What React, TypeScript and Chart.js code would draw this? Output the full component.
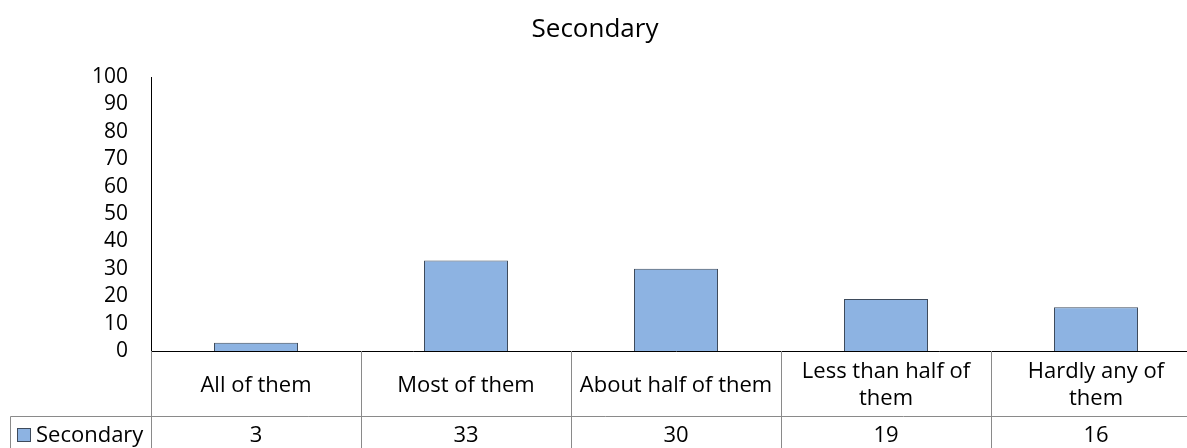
import React, { useEffect, useRef } from "react";
import { Chart, registerables } from "chart.js";

Chart.register(...registerables);

// Category labels, split into the lines shown in the table header row
const categories: string[][] = [
  ["All of them"],
  ["Most of them"],
  ["About half of them"],
  ["Less than half of", "them"],
  ["Hardly any of", "them"],
];
const seriesName = "Secondary";
const seriesValues: number[] = [3, 33, 30, 19, 16];
const yTicks: number[] = [0, 10, 20, 30, 40, 50, 60, 70, 80, 90, 100];
const chartTitle = "Secondary";

const FONT = "'Open Sans', sans-serif";
const BAR_FILL = "#8db3e2";
const BAR_EDGE = "#3e4b5c";
const GRID_GRAY = "#8a8a8a";

// Draws the title and the data table (category row + value row) under the plot
const tablePlugin = {
  id: "dataTable",
  afterDraw(chart: any) {
    const { ctx, chartArea, width } = chart;
    const x = chart.scales.x;
    const n = categories.length;
    const x0 = x.getPixelForValue(0);
    const colW = n > 1 ? x.getPixelForValue(1) - x0 : chartArea.right - chartArea.left;
    const left = x0 - colW / 2;
    const top = chartArea.bottom;
    const rowSplit = top + 65;
    const bottom = chart.height;

    ctx.save();
    // title
    ctx.fillStyle = "#000";
    ctx.font = `26px ${FONT}`;
    ctx.textAlign = "center";
    ctx.textBaseline = "alphabetic";
    ctx.fillText(chartTitle, 595, 37);

    // grid lines of the table
    ctx.strokeStyle = GRID_GRAY;
    ctx.lineWidth = 1;
    ctx.beginPath();
    for (let i = 0; i <= n; i++) {
      const bx = Math.round(left + i * colW) + 0.5;
      ctx.moveTo(bx, top);
      ctx.lineTo(bx, bottom);
    }
    ctx.moveTo(10.5, Math.round(rowSplit) + 0.5);
    ctx.lineTo(width, Math.round(rowSplit) + 0.5);
    ctx.moveTo(10.5, Math.round(rowSplit) + 0.5);
    ctx.lineTo(10.5, bottom);
    ctx.stroke();

    // category header row
    ctx.fillStyle = "#000";
    ctx.font = `22px ${FONT}`;
    ctx.textAlign = "center";
    const lineH = 27;
    categories.forEach((lines, i) => {
      const cx = x.getPixelForValue(i);
      const firstBase = lines.length === 1 ? 392 : 378;
      lines.forEach((ln, j) => ctx.fillText(ln, cx, firstBase + j * lineH));
    });

    // value row
    seriesValues.forEach((v, i) => {
      ctx.fillText(String(v), x.getPixelForValue(i), 442);
    });

    // legend key in the row header
    ctx.fillStyle = BAR_FILL;
    ctx.fillRect(17, 428, 14, 14);
    ctx.strokeStyle = BAR_EDGE;
    ctx.strokeRect(17.5, 428.5, 13, 13);
    ctx.fillStyle = "#000";
    ctx.textAlign = "left";
    ctx.fillText(seriesName, 36, 442);
    ctx.restore();
  },
};

export default function App() {
  const canvasRef = useRef<HTMLCanvasElement>(null);

  useEffect(() => {
    const canvas = canvasRef.current;
    if (!canvas) return;
    const chart = new Chart(canvas, {
      type: "bar",
      data: {
        labels: categories.map((l) => l.join(" ")),
        datasets: [
          {
            label: seriesName,
            data: seriesValues,
            backgroundColor: BAR_FILL,
            borderColor: BAR_EDGE,
            borderWidth: 1,
            categoryPercentage: 1,
            barPercentage: 0.4,
          },
        ],
      },
      options: {
        responsive: false,
        animation: false,
        devicePixelRatio: 1,
        layout: { padding: { top: 77, left: 0, right: 0, bottom: 0 } },
        plugins: {
          legend: { display: false },
          title: { display: false },
          tooltip: { enabled: false },
        },
        scales: {
          x: {
            grid: { display: false, drawTicks: false },
            border: { display: true, color: "#000", width: 1 },
            ticks: { display: false },
            afterFit: (s: any) => {
              s.height = 97;
            },
          },
          y: {
            min: 0,
            max: 100,
            afterBuildTicks: (s: any) => {
              s.ticks = yTicks.map((v) => ({ value: v }));
            },
            grid: { display: false, drawTicks: false },
            border: { display: true, color: "#000", width: 1 },
            ticks: {
              autoSkip: false,
              padding: 23,
              color: "#000",
              font: { family: FONT, size: 21, lineHeight: 1 },
            },
            afterFit: (s: any) => {
              s.width = 151;
            },
          },
        },
      },
      plugins: [tablePlugin],
    });
    return () => chart.destroy();
  }, []);

  return (
    <div
      style={{
        position: "fixed",
        left: 0,
        top: 0,
        width: 1187,
        height: 448,
        overflow: "hidden",
        background: "#fff",
      }}
    >
      <canvas ref={canvasRef} width={1201} height={448} style={{ display: "block" }} />
    </div>
  );
}
